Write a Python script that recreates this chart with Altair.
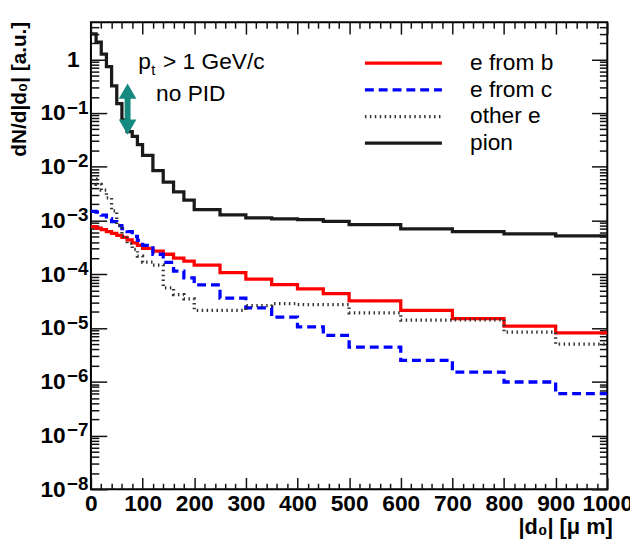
import altair as alt
import pandas as pd

# ---- data ----
edges = [0, 10, 20, 30, 40, 50, 60, 70, 80, 90, 100, 120, 140, 160, 180, 200,
         250, 300, 350, 400, 450, 500, 600, 700, 800, 900, 1000]

e_from_b = [7.7e-4, 7.2e-4, 6.8e-4, 6.25e-4, 5.75e-4, 5.3e-4, 4.85e-4, 4.37e-4, 3.85e-4, 3.47e-4,
            3.04e-4, 2.69e-4, 2.36e-4, 2.0e-4, 1.76e-4,
            1.48e-4, 1.07e-4, 8.1e-5, 6.45e-5, 5.37e-5, 4.35e-5,
            3.19e-5, 2.12e-5, 1.49e-5, 1.09e-5, 8.1e-6]
e_from_c = [1.48e-3, 1.43e-3, 1.26e-3, 1.08e-3, 9.5e-4, 8.05e-4, 7.1e-4, 6.25e-4, 5.06e-4, 4.27e-4,
            3.46e-4, 2.36e-4, 1.66e-4, 1.15e-4, 8.55e-5,
            6.36e-5, 3.59e-5, 2.37e-5, 1.59e-5, 1.05e-5, 7.3e-6,
            4.4e-6, 2.51e-6, 1.51e-6, 9.9e-7, 6.0e-7]
other_e = [5.9e-3, 4.7e-3, 3.7e-3, 2.64e-3, 1.52e-3, 8.1e-4, 5.06e-4, 3.76e-4, 2.92e-4, 2.17e-4,
           1.68e-4, 1.48e-4, 5.6e-5, 4.2e-5, 3.5e-5,
           2.14e-5, 2.14e-5, 2.61e-5, 2.84e-5, 2.72e-5, 2.72e-5,
           1.92e-5, 1.40e-5, 1.42e-5, 8.4e-6, 5.0e-6]
pion = [2.97, 2.1, 1.25, 0.73, 0.32, 0.15, 0.075, 0.045, 0.037, 0.026,
        0.0163, 0.0085, 0.0052, 0.0034, 0.0024,
        0.00159, 0.00128, 0.00112, 0.00107, 0.00104, 0.00097,
        0.00084, 0.0007, 0.000625, 0.000567, 0.00052]

series_names = ["e from b", "e from c", "other e", "pion"]
series_values = [e_from_b, e_from_c, other_e, pion]

# annotation
arrow_x = [71]
arrow_top = [0.255]
arrow_bottom = [0.055]

rows = []
for name, vals in zip(series_names, series_values):
    for i, v in enumerate(vals):
        rows.append({"x": edges[i], "v": v, "series": name})
    rows.append({"x": edges[-1], "v": vals[-1], "series": name})
df = pd.DataFrame(rows)

W, H = 523, 473
FONT = "Liberation Sans"
TICK_C = "#111111"

x_ticks = list(range(0, 1001, 20))
x_major = list(range(0, 1001, 100))
y_ticks = []
for n in range(-8, 1):
    for k in range(1, 10):
        val = k * 10.0 ** n
        if val <= 4.9:
            y_ticks.append(val)
y_major = [10.0 ** n for n in range(-8, 1)]

x_tick_size = {"condition": {"test": "datum.value % 100 == 0", "value": 12}, "value": 6}
y_major_test = "abs(log(datum.value)/LN10 - round(log(datum.value)/LN10)) < 0.000001"
y_tick_size = {"condition": {"test": y_major_test, "value": 16}, "value": 8}

xscale = alt.Scale(domain=[0, 1000], nice=False, zero=False)
yscale = alt.Scale(type="log", domain=[1e-8, 4.9], nice=False)

# axes
ax_x_labels = alt.Axis(orient="bottom", values=x_major, format="d", tickSize=0, domain=False, grid=False,
                       labelFont=FONT, labelFontSize=23, labelFontWeight="bold", labelColor="black",
                       labelPadding=4, labelFlush=False, labelOverlap=False,
                       title="|d₀| [μ m]", titleFont=FONT, titleFontSize=22, titleFontWeight="bold",
                       titleColor="black", titleAlign="right", titleBaseline="alphabetic",
                       titleX=528, titleY=45)
ax_x_in_bottom = alt.Axis(orient="top", offset=-H, values=x_ticks, labels=False, domain=False,
                          grid=False, tickSize=x_tick_size, tickColor=TICK_C, tickWidth=1.5, title=None)
ax_x_in_top = alt.Axis(orient="bottom", offset=-H, values=x_ticks, labels=False, domain=False,
                       grid=False, tickSize=x_tick_size, tickColor=TICK_C, tickWidth=1.5, title=None)

ax_y_tens = alt.Axis(orient="left", values=y_major, tickSize=0, domain=False, grid=False,
                     labelExpr="datum.value == 1 ? '1' : '10'",
                     labelFont=FONT, labelFontSize=23, labelFontWeight="bold", labelColor="black",
                     labelPadding={"condition": {"test": "datum.value == 1", "value": 12}, "value": 26},
                     labelAlign="right", labelBaseline="middle", labelFlush=False, labelOverlap=False,
                     title="dN/d|d₀| [a.u.]", titleFont=FONT, titleFontSize=21, titleFontWeight="bold",
                     titleColor="black", titleAngle=270, titleAlign="right", titleBaseline="middle",
                     titleX=-72, titleY=-1)
ax_y_exp = alt.Axis(orient="left", values=y_major[:-1], tickSize=0, domain=False, grid=False,
                    labelExpr="'\u2212' + abs(round(log(datum.value)/LN10))",
                    labelFont=FONT, labelFontSize=19, labelFontWeight="bold", labelColor="black",
                    labelPadding=3, labelOffset=-6, labelAlign="right", labelBaseline="middle",
                    labelFlush=False, labelOverlap=False, title=None)
ax_y_in_left = alt.Axis(orient="right", offset=-W, values=y_ticks, labels=False, domain=False,
                        grid=False, tickSize=y_tick_size, tickColor=TICK_C, tickWidth=1.5, title=None)
ax_y_in_right = alt.Axis(orient="left", offset=-W, values=y_ticks, labels=False, domain=False,
                         grid=False, tickSize=y_tick_size, tickColor=TICK_C, tickWidth=1.5, title=None)

legend = alt.Legend(orient="none", legendX=305, legendY=30, title=None,
                    symbolType="M-4,0H4", symbolSize=380, labelFont=FONT, labelFontSize=23,
                    labelColor="black", labelOffset=56, rowPadding=3, padding=0)

base = alt.Chart(df)

data_layer = base.mark_line(interpolate="step-after", clip=True).encode(
    x=alt.X("x:Q", scale=xscale, axis=ax_x_labels),
    y=alt.Y("v:Q", scale=yscale, axis=ax_y_tens),
    color=alt.Color("series:N", scale=alt.Scale(domain=series_names,
                    range=["#ff0000", "#0000ff", "#333333", "#1a1a1a"]), legend=legend),
    strokeDash=alt.StrokeDash("series:N", scale=alt.Scale(domain=series_names,
                    range=[[1, 0], [9, 5], [1.5, 3.5], [1, 0]]), legend=legend),
    strokeWidth=alt.StrokeWidth("series:N", scale=alt.Scale(domain=series_names,
                    range=[3.3, 3.3, 1.4, 0.9]), legend=legend),
)

carrier1 = base.mark_point(opacity=0).encode(
    x=alt.X("x:Q", scale=xscale, axis=ax_x_in_bottom),
    y=alt.Y("v:Q", scale=yscale, axis=ax_y_exp),
)
carrier2 = base.mark_point(opacity=0).encode(
    x=alt.X("x:Q", scale=xscale, axis=ax_x_in_top),
    y=alt.Y("v:Q", scale=yscale, axis=ax_y_in_left),
)
carrier3 = base.mark_point(opacity=0).encode(
    x=alt.X("x:Q", scale=xscale, axis=None),
    y=alt.Y("v:Q", scale=yscale, axis=ax_y_in_right),
)

arrow_df = pd.DataFrame({"x": arrow_x, "top": arrow_top, "bottom": arrow_bottom})
TEAL = "#178a80"
arrow_shaft = alt.Chart(arrow_df).mark_rule(color=TEAL, strokeWidth=6).encode(
    x=alt.X("x:Q", scale=xscale, axis=None),
    y=alt.Y("top:Q", scale=yscale, axis=None),
    y2="bottom:Q",
)
arrow_up = alt.Chart(arrow_df).mark_point(shape="triangle-up", filled=True, size=320,
                                          color=TEAL, opacity=1).encode(
    x=alt.X("x:Q", scale=xscale, axis=None),
    y=alt.Y("top:Q", scale=yscale, axis=None),
)
arrow_down = alt.Chart(arrow_df).mark_point(shape="triangle-down", filled=True, size=320,
                                            color=TEAL, opacity=1).encode(
    x=alt.X("x:Q", scale=xscale, axis=None),
    y=alt.Y("bottom:Q", scale=yscale, axis=None),
)

def label(text, x, y, size=23, align="left"):
    return alt.Chart(pd.DataFrame({"t": [text]})).mark_text(
        font=FONT, fontSize=size, color="black", align=align, baseline="alphabetic"
    ).encode(x=alt.value(x), y=alt.value(y), text="t:N")

txt_p = label("p", 48, 47)
txt_t = label("t", 61, 53, size=15)
txt_rest = label("> 1 GeV/c", 73, 47)
txt_nopid = label("no PID", 66, 80)

chart = alt.layer(
    data_layer, carrier1, carrier2, carrier3,
    arrow_shaft, arrow_up, arrow_down,
    txt_p, txt_t, txt_rest, txt_nopid,
).resolve_axis(
    x="independent", y="independent"
).properties(
    width=W, height=H,
    padding={"left": 84, "top": 11, "right": 23, "bottom": 49},
    autosize=alt.AutoSizeParams(type="none"),
    background="white",
).configure_view(
    stroke="black", strokeWidth=2
)

chart.save("out.html", embed_options={"renderer": "svg", "actions": False})
